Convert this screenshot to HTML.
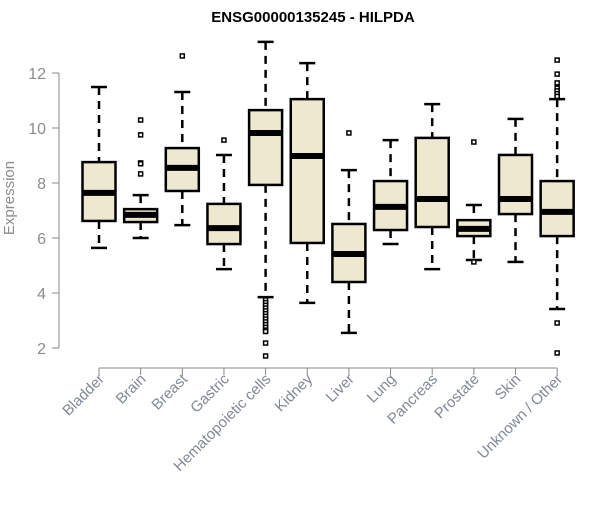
<!DOCTYPE html>
<html><head><meta charset="utf-8"><style>
body{margin:0;background:#fff}
svg{font-family:"Liberation Sans",Arial,sans-serif}
</style></head><body>
<svg id="chart" width="600" height="500">
<text x="313" y="22" text-anchor="middle" font-weight="bold" font-size="15">ENSG00000135245 - HILPDA</text>
<text transform="translate(14,198) rotate(-90)" text-anchor="middle" font-size="15" fill="#8c8c8c">Expression</text>
<g id="yaxis"></g>
<g id="xaxis"></g>
<g id="boxes"></g>
</svg>
<script>
const categories=["Bladder","Brain","Breast","Gastric","Hematopoietic cells","Kidney","Liver","Lung","Pancreas","Prostate","Skin","Unknown / Other"];
const whiskerLow=[5.64,6.0,6.47,4.87,3.85,3.64,2.55,5.78,4.87,5.2,5.13,3.42];
const q1=[6.62,6.58,7.71,5.78,7.93,5.82,4.4,6.29,6.4,6.07,6.87,6.07];
const medians=[7.64,6.84,8.55,6.36,9.82,8.98,5.42,7.13,7.42,6.33,7.42,6.95];
const q3=[8.76,7.05,9.27,7.24,10.65,11.05,6.51,8.07,9.64,6.65,9.02,8.07];
const whiskerHigh=[11.49,7.56,11.31,9.02,13.13,12.36,8.47,9.56,10.87,7.2,10.33,11.05];
const outliers=[[],[10.29,9.75,8.73,8.7,8.33],[12.62],[9.56],[3.75,3.65,3.55,3.45,3.35,3.25,3.15,3.05,2.95,2.85,2.75,2.65,2.6,2.18,1.71],[],[9.82],[],[],[9.49,5.13],[],[12.47,11.96,11.64,11.45,11.35,11.25,11.15,2.91,1.82]];
const yTicks=[2,4,6,8,10,12];
const NS="http://www.w3.org/2000/svg";
function y(v){return 348-(v-2)*27.5;}
function x(i){return 99+i*41.65;}
function mk(tag,attrs,parent){const e=document.createElementNS(NS,tag);for(const k in attrs)e.setAttribute(k,attrs[k]);parent.appendChild(e);return e;}
const ya=document.getElementById('yaxis'),xa=document.getElementById('xaxis'),bx=document.getElementById('boxes');
mk('line',{x1:59,x2:59,y1:y(yTicks[0]),y2:y(yTicks[yTicks.length-1]),stroke:'#888'},ya);
yTicks.forEach(t=>{
  mk('line',{x1:52,x2:59,y1:y(t),y2:y(t),stroke:'#888'},ya);
  const tx=mk('text',{x:46,y:y(t)+6,'text-anchor':'end','font-size':16,fill:'#8c8c8c'},ya);
  tx.textContent=t;
  
  
});
mk('line',{x1:x(0),x2:x(categories.length-1),y1:368,y2:368,stroke:'#888'},xa);
categories.forEach((c,i)=>{
  mk('line',{x1:x(i),x2:x(i),y1:368,y2:375,stroke:'#888'},xa);
  const t=mk('text',{transform:`translate(${x(i)+6},380) rotate(-45)`,'text-anchor':'end','font-size':15,fill:'#7f8a96'},xa);
  t.textContent=c;
  
  
  const g=mk('g',{},bx);
  
  
  const cx=x(i),hw=16.5,cw=8;
  mk('line',{x1:cx,x2:cx,y1:y(whiskerHigh[i]),y2:y(q3[i]),stroke:'#000','stroke-width':2.5,'stroke-dasharray':'8,6'},g);
  mk('line',{x1:cx,x2:cx,y1:y(q1[i]),y2:y(whiskerLow[i]),stroke:'#000','stroke-width':2.5,'stroke-dasharray':'8,6'},g);
  mk('line',{x1:cx-cw,x2:cx+cw,y1:y(whiskerHigh[i]),y2:y(whiskerHigh[i]),stroke:'#000','stroke-width':2.5},g);
  mk('line',{x1:cx-cw,x2:cx+cw,y1:y(whiskerLow[i]),y2:y(whiskerLow[i]),stroke:'#000','stroke-width':2.5},g);
  mk('rect',{x:cx-hw,y:y(q3[i]),width:hw*2,height:y(q1[i])-y(q3[i]),fill:'#ede8cf',stroke:'#000','stroke-width':2.5},g);
  mk('line',{x1:cx-hw,x2:cx+hw,y1:y(medians[i]),y2:y(medians[i]),stroke:'#000','stroke-width':6},g);
  outliers[i].forEach(o=>{
    const p=mk('rect',{x:cx-2,y:y(o)-2,width:4,height:4,fill:'#fff',stroke:'#000','stroke-width':1.5},g);
    
    
  });
});
</script>
</body></html>
